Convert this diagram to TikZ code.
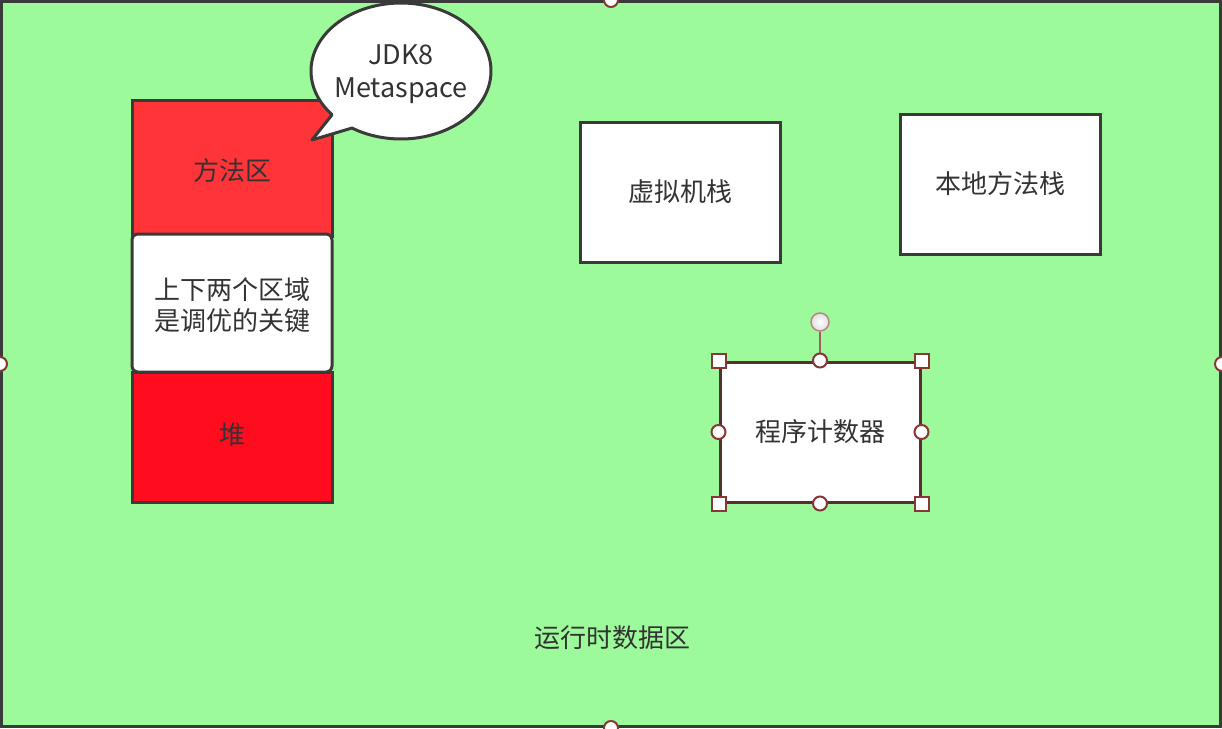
\documentclass[tikz,border=0pt]{standalone}
\usepackage{fontspec}
\setmainfont{Noto Sans CJK SC}
\definecolor{bg}{HTML}{9DFA9B}
\definecolor{redA}{HTML}{FF3439}
\definecolor{redB}{HTML}{FF0D1E}
\definecolor{edge}{HTML}{3A3A3A}
\definecolor{txt}{HTML}{333333}
\definecolor{hdl}{HTML}{8B3636}
\definecolor{selb}{HTML}{5A2E2E}
\tikzset{
  box/.style={draw=edge, line width=3pt, fill=white, minimum width=200pt, minimum height=140pt, inner sep=0pt, text=txt, font=\fontsize{26}{31}\selectfont, align=center},
  hsq/.style={draw=hdl, line width=2pt, fill=white, minimum size=14pt, inner sep=0pt, shape=rectangle},
  hci/.style={draw=hdl, line width=2pt, fill=white, minimum size=14pt, inner sep=0pt, shape=circle},
  lbl/.style={text=txt, font=\fontsize{26}{31}\selectfont, align=center}
}
\begin{document}
\begin{tikzpicture}[x=1pt,y=-1pt]
\useasboundingbox (0,0) rectangle (1222,728);
% outer area
\node[draw=edge, line width=3pt, fill=bg, minimum width=1219pt, minimum height=725pt, inner sep=0pt] (area) at (611,364) {};
\node[lbl] (arealbl) at (612,638) {运行时数据区};
% left column
\node[box, fill=redA, minimum height=136pt] (method) at (232,168) {};
\node[lbl] (methodlbl) at (232,171) {方法区};
\node[box, fill=redB, minimum height=130pt] (heap) at (232,437) {};
\node[lbl] (heaplbl) at (232,435) {堆};
\node[box, rounded corners=6pt, minimum height=138pt] (note) at (232,303) {};
\node[lbl] (notelbl) at (232,305) {上下两个区域\\是调优的关键};
% bubble
\draw[draw=edge, line width=3pt, fill=white, line join=round] (312,140) -- plot[domain=140:483, samples=150] ({401+90*cos(\x)},{71+68*sin(\x)}) -- cycle;
\node[lbl, font=\fontsize{27}{33}\selectfont] (bubble) at (401,74) {JDK8\\Metaspace};
% stacks
\node[box] (vm) at (680,192) {虚拟机栈};
\node[box] (native) at (1000,184) {本地方法栈};
\node[box, draw=selb] (pc) at (820,432) {程序计数器};
% selection handles of pc
\node[hci, minimum size=18pt, draw=hdl!60, line width=1.5pt, inner color=white, outer color=gray!25] (rot) at (820,322) {};
\draw[hdl!80, line width=1.5pt] (rot) -- (pc.north);
\foreach \a in {north west, north east, south west, south east}
  \node[hsq] at (pc.\a) {};
\foreach \a in {north, south, east, west}
  \node[hci] at (pc.\a) {};
% handles of outer area
\foreach \a in {north, south, east, west}
  \node[hci] at (area.\a) {};
\end{tikzpicture}
\end{document}
